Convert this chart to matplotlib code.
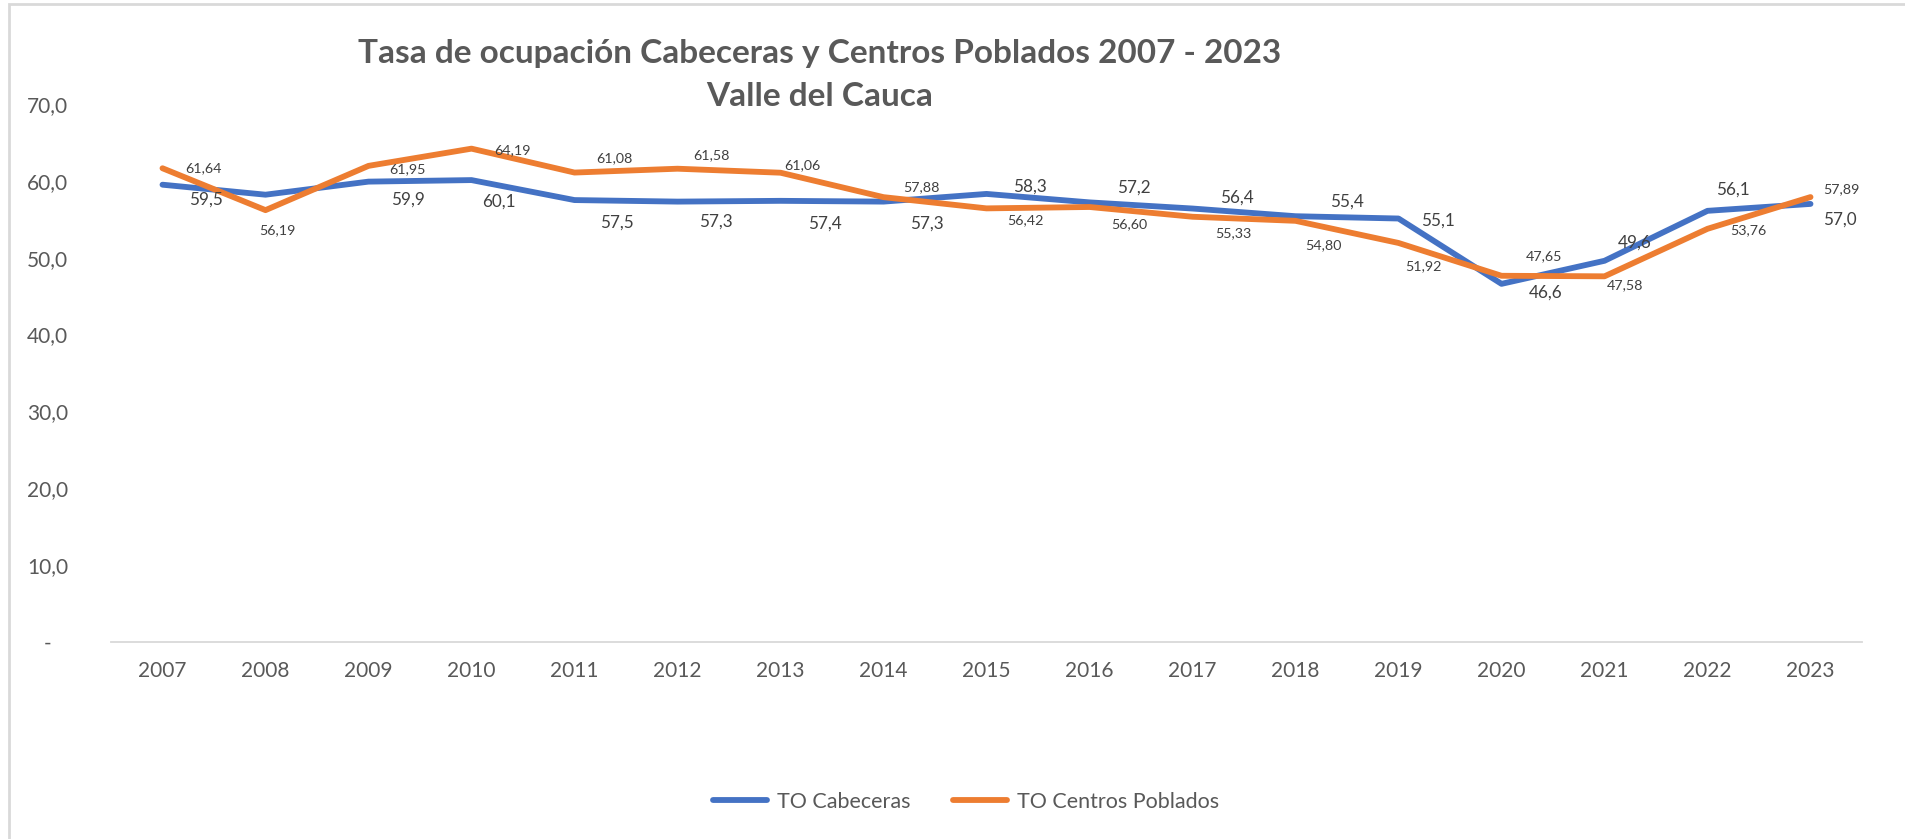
import numpy as np
import matplotlib
matplotlib.use("Agg")
import matplotlib.pyplot as plt
from matplotlib.patches import Rectangle

years = [str(y) for y in range(2007, 2024)]
cabeceras = [59.5, 58.2, 59.9, 60.1, 57.5, 57.3, 57.4, 57.3, 58.3, 57.2,
             56.4, 55.4, 55.1, 46.6, 49.6, 56.1, 57.0]
centros = [61.64, 56.19, 61.95, 64.19, 61.08, 61.58, 61.06, 57.88, 56.42, 56.60,
           55.33, 54.80, 51.92, 47.65, 47.58, 53.76, 57.89]
yticks = [0, 10, 20, 30, 40, 50, 60, 70]

# label offsets in pixels (dx right, dy down); None = no label shown
off_cab = [(43, 15), None, (39, 18), (27, 22), (42, 23), (38, 20), (44, 23), (43, 22),
           (43, -7), (44, -15), (44, -11), (51, -15), (39, 2), (44, 9), (30, -18),
           (25, -21), (29, 16)]
off_cen = [(41, 0), (12, 20), (39, 3), (41, 2), (40, -14), (34, -14), (22, -8), (38, -10),
           (39, 12), (40, 17), (41, 16), (28, 24), (25, 23), (42, -20), (21, 9),
           (41, 1), (31, -8)]

BLUE = "#4472C4"
ORANGE = "#ED7D31"
GREY = "#595959"
LABEL = "#404040"

plt.rcParams['font.family'] = ['Lato', 'DejaVu Sans']

W, H = 1906, 839
fig = plt.figure(figsize=(W / 100, H / 100), dpi=100)
ax = fig.add_axes([111 / W, 1 - 642 / H, (1862 - 111) / W, (642 - 104) / H])

x = np.arange(len(years))
ax.plot(x, cabeceras, color=BLUE, lw=4.2, solid_capstyle='round', solid_joinstyle='round',
        label="TO Cabeceras", zorder=3)
ax.plot(x, centros, color=ORANGE, lw=4.2, solid_capstyle='round', solid_joinstyle='round',
        label="TO Centros Poblados", zorder=3)

for i in range(len(years)):
    if off_cab[i] is not None:
        dx, dy = off_cab[i]
        ax.annotate(f"{cabeceras[i]:.1f}".replace(".", ","), (x[i], cabeceras[i]),
                    xytext=(dx, -dy), textcoords='offset pixels', ha='center', va='center',
                    fontsize=12.3, color=LABEL, zorder=4)
    dx, dy = off_cen[i]
    ax.annotate(f"{centros[i]:.2f}".replace(".", ","), (x[i], centros[i]),
                xytext=(dx, -dy), textcoords='offset pixels', ha='center', va='center',
                fontsize=10.3, color=LABEL, zorder=4)

ax.set_xlim(-0.5, len(years) - 0.5)
ax.set_ylim(0, 70)
ax.set_xticks(x)
ax.set_xticklabels(years)
ax.set_yticks(yticks)
ax.set_yticklabels([f"{v:.1f}".replace(".", ",") if v else "-   " for v in yticks])
ax.tick_params(axis='both', length=0, labelsize=15, labelcolor=GREY)
ax.tick_params(axis='y', pad=31)
ax.tick_params(axis='x', pad=14)
for s in ['top', 'right', 'left']:
    ax.spines[s].set_visible(False)
ax.spines['bottom'].set_color("#D9D9D9")
ax.spines['bottom'].set_linewidth(1.3)

fig.text(820 / W, 1 - 53 / H, "Tasa de ocupación Cabeceras y Centros Poblados 2007 - 2023",
         ha='center', va='center', fontsize=24, fontweight='bold', color=GREY)
fig.text(820 / W, 1 - 96 / H, "Valle del Cauca",
         ha='center', va='center', fontsize=24, fontweight='bold', color=GREY)

fig.legend(loc='center', bbox_to_anchor=(966 / W, 1 - 802 / H), ncol=2, frameon=False,
           fontsize=15.5, labelcolor=GREY, handlelength=2.5, handletextpad=0.45,
           columnspacing=2.0)

# chart area border (cut off on the right and bottom in the reference)
fig.patches.append(Rectangle((9 / W, -0.1), 1.2, 1 - 4 / H + 0.1, transform=fig.transFigure,
                             fill=False, edgecolor="#D9D9D9", lw=2))

fig.savefig("out.png", dpi=100)
